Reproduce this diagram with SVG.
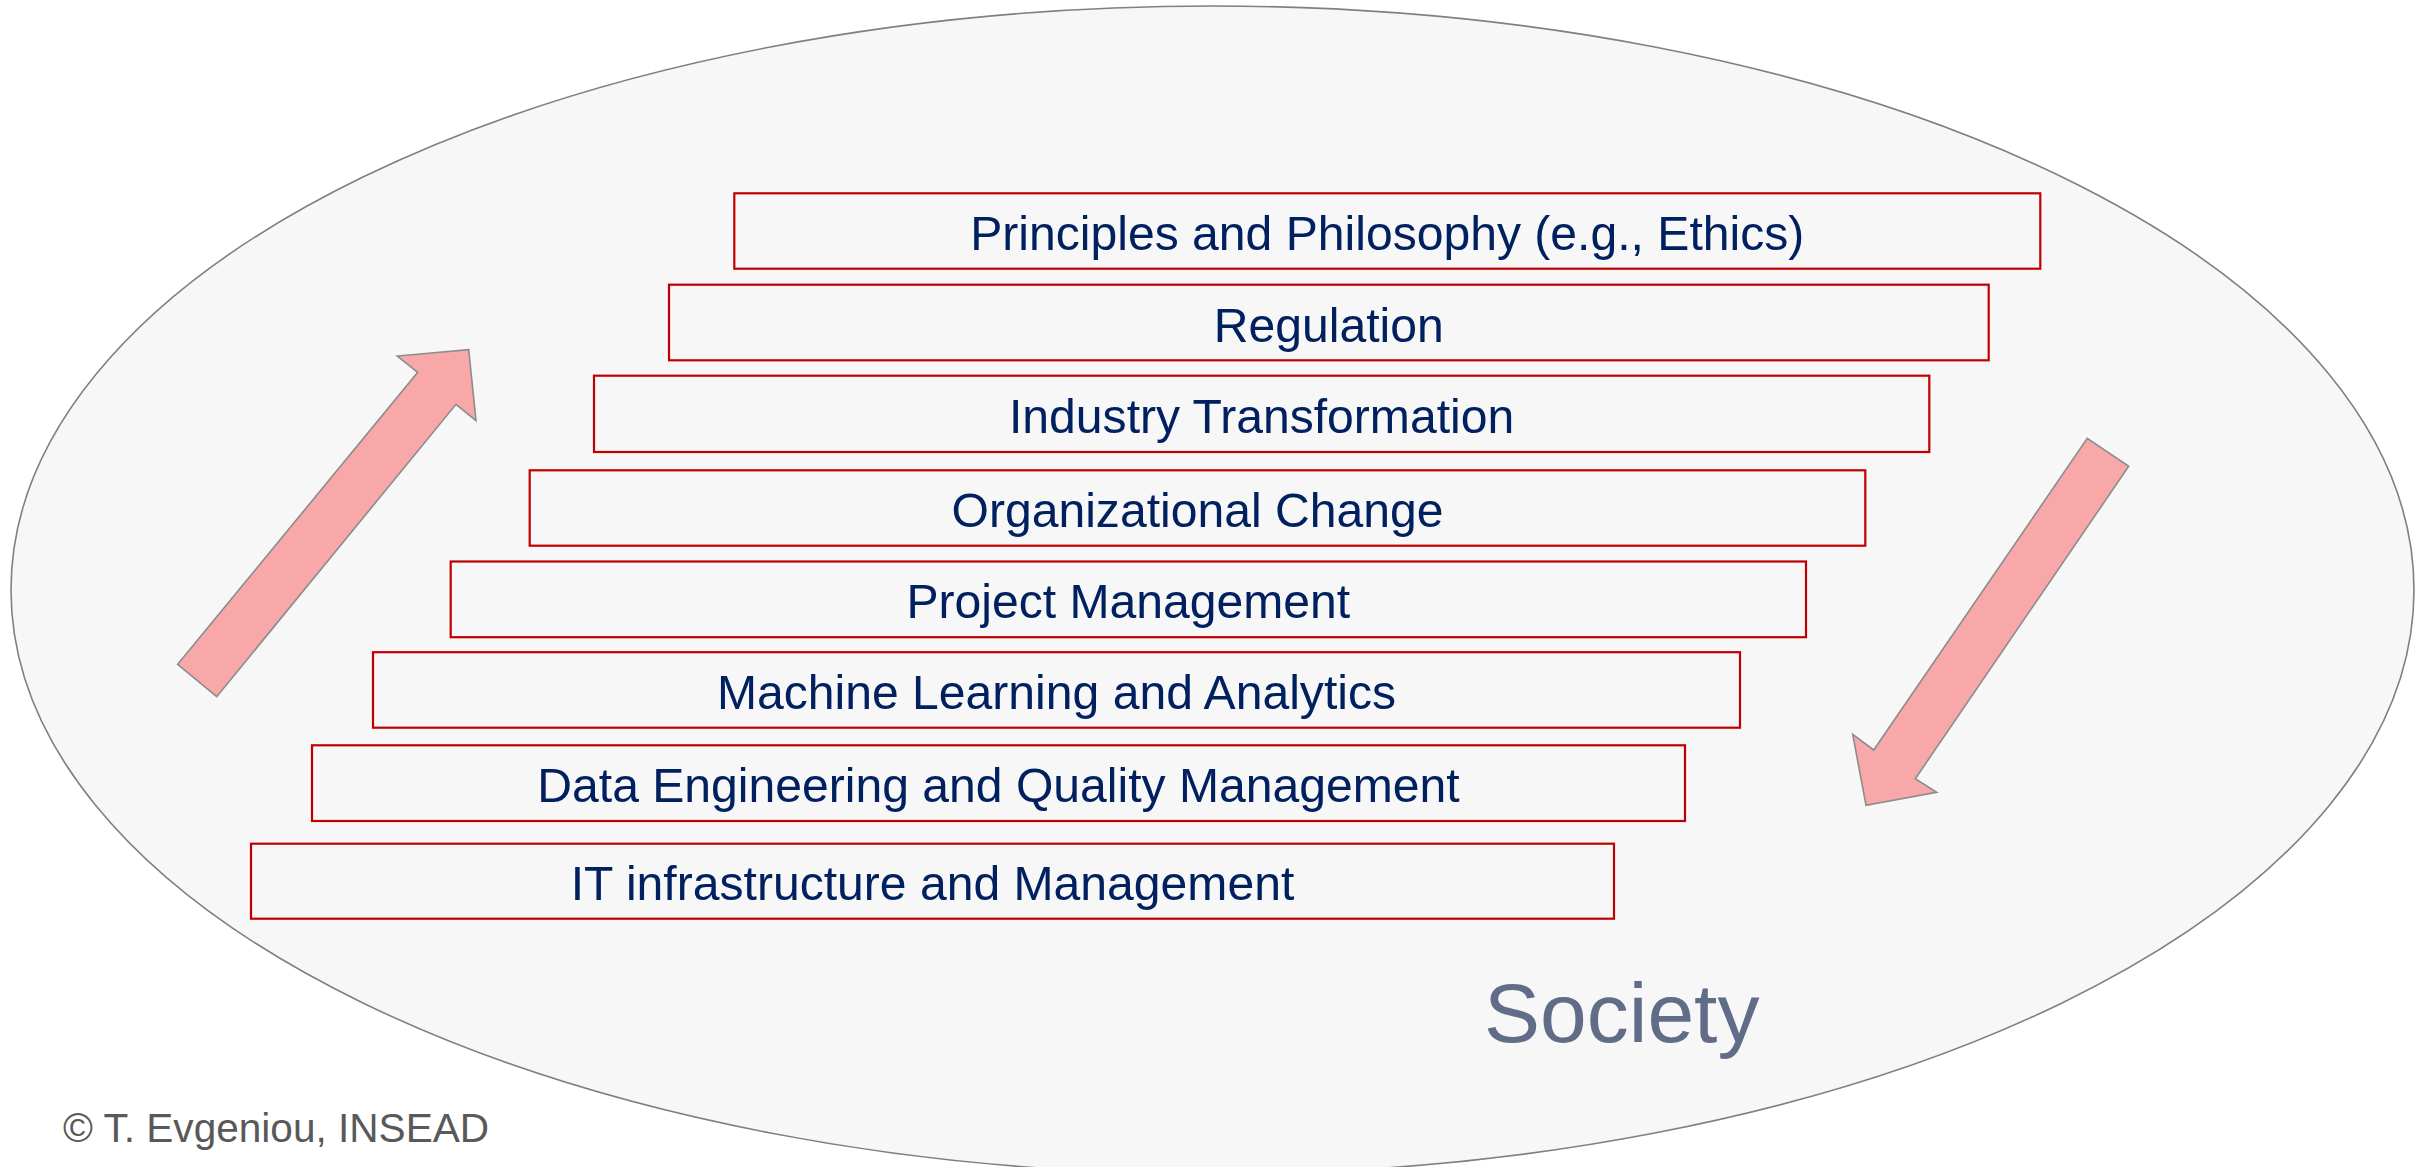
<svg xmlns="http://www.w3.org/2000/svg" width="2433" height="1167" viewBox="0 0 2433 1167">
  <style>
    .layer rect { fill: #F7F7F7; stroke: #C00000; stroke-width: 2.2; }
    .layer text { font-family: "Liberation Sans", Arial, sans-serif; font-size: 48.1px; fill: #002060; text-anchor: middle; }
    .flow { fill: #F8A8A8; stroke: #8C8C8C; stroke-width: 1.6; stroke-linejoin: miter; }
  </style>
  <rect x="0" y="0" width="2433" height="1167" fill="#FFFFFF"/>

  <!-- society ellipse -->
  <g id="society">
    <ellipse cx="1212.5" cy="590" rx="1201.5" ry="584" fill="#F7F7F7" stroke="#808080" stroke-width="1.6"/>
    <text x="1484" y="1041.5" font-family="Liberation Sans, Arial, sans-serif" font-size="84" fill="#616C88">Society</text>
  </g>

  <!-- stacked layers -->
  <g id="principles" class="layer">
    <rect x="734.3" y="193.3" width="1306" height="75.4"/>
    <text x="1387.3" y="250">Principles and Philosophy (e.g., Ethics)</text>
  </g>
  <g id="regulation" class="layer">
    <rect x="669" y="284.7" width="1319.7" height="75.6"/>
    <text x="1328.8" y="341.5">Regulation</text>
  </g>
  <g id="industry" class="layer">
    <rect x="594" y="375.7" width="1335.3" height="76.3"/>
    <text x="1261.6" y="432.8">Industry Transformation</text>
  </g>
  <g id="organizational" class="layer">
    <rect x="529.7" y="470.3" width="1335.6" height="75.4"/>
    <text x="1197.5" y="526.5">Organizational Change</text>
  </g>
  <g id="project" class="layer">
    <rect x="450.7" y="561.5" width="1355.3" height="75.7"/>
    <text x="1128.3" y="618">Project Management</text>
  </g>
  <g id="ml" class="layer">
    <rect x="373" y="652.2" width="1367" height="75.5"/>
    <text x="1056.5" y="708.5">Machine Learning and Analytics</text>
  </g>
  <g id="data" class="layer">
    <rect x="312" y="745.3" width="1373" height="75.7"/>
    <text x="998.5" y="801.5">Data Engineering and Quality Management</text>
  </g>
  <g id="it" class="layer">
    <rect x="251" y="843.7" width="1363" height="75"/>
    <text x="932.5" y="899.7">IT infrastructure and Management</text>
  </g>

  <!-- block arrows -->
  <g id="connectors">
    <polygon class="flow" points="177.7,664.3 417.7,372.3 397.3,356 468.7,349.7 476,420.7 456,404.3 216.7,696.7"/>
    <polygon class="flow" points="2087.3,438.3 2128.7,466.3 1915.3,778.7 1936.7,792.3 1866,805.3 1852.7,734.3 1873.7,750"/>
  </g>

  <text id="credit" x="63" y="1142.3" font-family="Liberation Sans, Arial, sans-serif" font-size="40.6" fill="#595959">© T. Evgeniou, INSEAD</text>
</svg>
